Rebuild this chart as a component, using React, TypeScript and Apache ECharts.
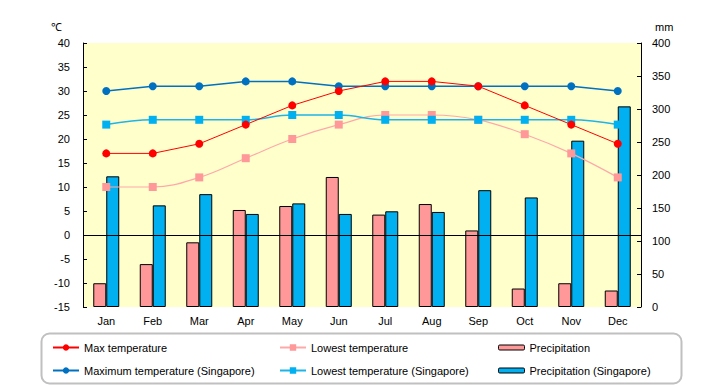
import React, { useEffect, useRef } from "react";
import * as echarts from "echarts";

const months = ["Jan", "Feb", "Mar", "Apr", "May", "Jun", "Jul", "Aug", "Sep", "Oct", "Nov", "Dec"];
const maxTemp = [17, 17, 19, 23, 27, 30, 32, 32, 31, 27, 23, 19];
const lowTemp = [10, 10, 12, 16, 20, 23, 25, 25, 24, 21, 17, 12];
const precip = [36, 65, 98, 147, 153, 197, 140, 156, 116, 28, 36, 25];
const sgMaxTemp = [30, 31, 31, 32, 32, 31, 31, 31, 31, 31, 31, 30];
const sgLowTemp = [23, 24, 24, 24, 25, 25, 24, 24, 24, 24, 24, 23];
const sgPrecip = [198, 154, 171, 141, 157, 141, 145, 144, 177, 166, 252, 304];

const FONT = "'Liberation Sans', Arial, sans-serif";

export default function App() {
  const ref = useRef<HTMLDivElement>(null);
  useEffect(() => {
    if (!ref.current) return;
    const chart = echarts.init(ref.current, undefined, { renderer: "svg" });
    const legendBase = {
      orient: "horizontal",
      padding: 0,
      itemWidth: 26,
      itemHeight: 8,
      textStyle: { fontSize: 11, color: "#000", fontFamily: FONT },
      selectedMode: false,
    };
    const barLegend = {
      ...legendBase,
      itemHeight: 5,
      itemStyle: { borderColor: "#000", borderWidth: 1 },
    };
    chart.setOption({
      animation: false,
      textStyle: { fontFamily: FONT },
      grid: {
        left: 83,
        right: 79,
        top: 43,
        bottom: 78,
        show: true,
        backgroundColor: "#FFFFCC",
        borderWidth: 0,
      },
      legend: [
        { ...legendBase, left: 52, top: 342, data: ["Max temperature"] },
        { ...legendBase, left: 279, top: 342, data: ["Lowest temperature"] },
        { ...barLegend, left: 498, top: 342, data: ["Precipitation"] },
        { ...legendBase, left: 52, top: 365, data: ["Maximum temperature (Singapore)"] },
        { ...legendBase, left: 279, top: 365, data: ["Lowest temperature (Singapore)"] },
        { ...barLegend, left: 498, top: 365, data: ["Precipitation (Singapore)"] },
      ],
      xAxis: {
        type: "category",
        data: months,
        boundaryGap: true,
        axisLine: { show: false },
        axisTick: { show: false },
        axisLabel: { fontSize: 11, color: "#000", margin: 8, fontFamily: FONT },
        splitLine: { show: false },
      },
      yAxis: [
        {
          type: "value",
          min: -15,
          max: 40,
          interval: 5,
          axisLine: { show: true, lineStyle: { color: "#000", width: 1 } },
          axisTick: { show: true, inside: true, length: 4, lineStyle: { color: "#000" } },
          axisLabel: { fontSize: 11, color: "#000", margin: 13, fontFamily: FONT },
          splitLine: { show: false },
        },
        {
          type: "value",
          min: 0,
          max: 400,
          interval: 50,
          position: "right",
          axisLine: { show: true, lineStyle: { color: "#000", width: 1 } },
          axisTick: { show: true, inside: true, length: 4, lineStyle: { color: "#000" } },
          axisLabel: { fontSize: 11, color: "#000", margin: 11, fontFamily: FONT },
          splitLine: { show: false },
        },
      ],
      graphic: [
        {
          type: "text",
          left: 51,
          top: 21,
          style: { text: "℃", fill: "#000", font: `11px ${FONT}` },
        },
        {
          type: "text",
          left: 655,
          top: 21,
          style: { text: "mm", fill: "#000", font: `11px ${FONT}` },
        },
        {
          type: "rect",
          shape: { x: 41.5, y: 333.5, width: 640, height: 50, r: 8 },
          style: { fill: "none", stroke: "#C0C0C0", lineWidth: 2 },
          z: -1,
        },
      ],
      series: [
        {
          name: "Precipitation",
          type: "bar",
          yAxisIndex: 1,
          data: precip,
          barWidth: 13,
          barGap: "0%",
          itemStyle: { color: "#FF9999", borderColor: "#000", borderWidth: 1 },
        },
        {
          name: "Precipitation (Singapore)",
          type: "bar",
          yAxisIndex: 1,
          data: sgPrecip,
          barWidth: 13,
          barGap: "0%",
          itemStyle: { color: "#00B0F0", borderColor: "#000", borderWidth: 1 },
        },
        {
          name: "Lowest temperature",
          type: "line",
          yAxisIndex: 0,
          data: lowTemp,
          smooth: 0.4,
          symbol: "rect",
          symbolSize: 8,
          lineStyle: { color: "#FFA8A8", width: 1.2 },
          itemStyle: { color: "#FF9999" },
        },
        {
          name: "Lowest temperature (Singapore)",
          type: "line",
          yAxisIndex: 0,
          data: sgLowTemp,
          smooth: 0.4,
          symbol: "rect",
          symbolSize: 8,
          lineStyle: { color: "#1EB4E6", width: 1.5 },
          itemStyle: { color: "#00B0F0" },
        },
        {
          name: "Maximum temperature (Singapore)",
          type: "line",
          yAxisIndex: 0,
          data: sgMaxTemp,
          symbol: "circle",
          symbolSize: 8,
          lineStyle: { color: "#0070C0", width: 1.5 },
          itemStyle: { color: "#0070C0" },
        },
        {
          name: "Max temperature",
          type: "line",
          yAxisIndex: 0,
          data: maxTemp,
          symbol: "circle",
          symbolSize: 8,
          lineStyle: { color: "#FF0000", width: 1 },
          itemStyle: { color: "#FF0000" },
          markLine: {
            silent: true,
            symbol: ["none", "none"],
            label: { show: false },
            lineStyle: { color: "#000", type: "solid", width: 1 },
            data: [{ yAxis: 0 }],
          },
        },
      ],
    });
    return () => chart.dispose();
  }, []);
  return (
    <div
      ref={ref}
      style={{ position: "fixed", left: 0, top: 0, width: 720, height: 385, background: "#fff" }}
    />
  );
}
